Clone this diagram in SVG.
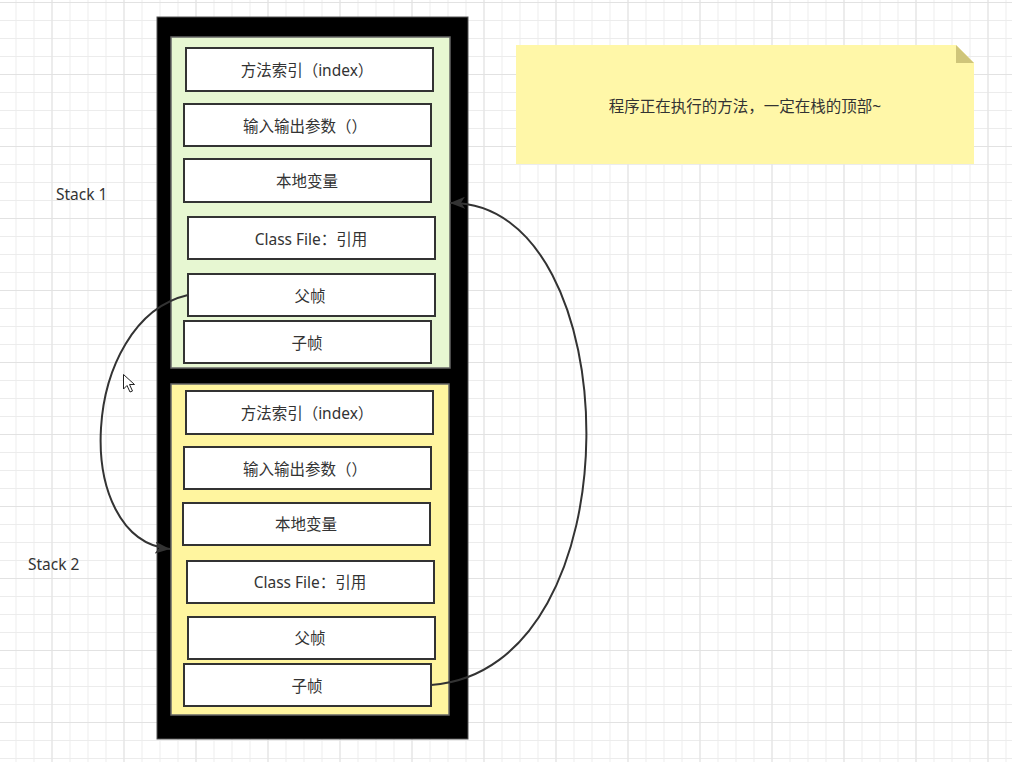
<svg xmlns="http://www.w3.org/2000/svg" width="1012" height="762" viewBox="0 0 1012 762">
  <defs>
    <pattern id="minor" x="-2.5" y="2" width="18" height="18" patternUnits="userSpaceOnUse">
      <path d="M 0.5 0 L 0.5 18 M 0 0.5 L 18 0.5" fill="none" stroke="#ececec" stroke-width="1"/>
    </pattern>
    <pattern id="major" x="51.5" y="2" width="72" height="72" patternUnits="userSpaceOnUse">
      <path d="M 0.5 0 L 0.5 72 M 0 0.5 L 72 0.5" fill="none" stroke="#e2e2e2" stroke-width="1"/>
    </pattern>
    <marker id="arrow" markerUnits="userSpaceOnUse" markerWidth="16" markerHeight="12" refX="15" refY="6" orient="auto">
      <path d="M 0 0 L 15 6 L 0 12 L 4 6 Z" fill="#333"/>
    </marker>
    <style>
      .box { fill: #ffffff; stroke: #333333; stroke-width: 2; }
      .lbl { font-family: "Noto Sans", "Noto Sans CJK SC", sans-serif; font-size: 15.5px; fill: #333333; text-anchor: middle; dominant-baseline: central; }
      .side { font-family: "Noto Sans", "Noto Sans CJK SC", sans-serif; font-size: 15.5px; fill: #333333; dominant-baseline: central; }
      .edge { fill: none; stroke: #333333; stroke-width: 2; }
    </style>
  </defs>

  <rect width="1012" height="762" fill="#ffffff"/>
  <rect width="1012" height="762" fill="url(#minor)"/>
  <rect width="1012" height="762" fill="url(#major)"/>

  <g id="frame">
    <rect x="157" y="17" width="311" height="722" fill="#000000" stroke="#555555" stroke-width="1"/>
  </g>

  <g id="stack1">
    <rect x="171" y="37" width="279" height="331" fill="#e7f7d2" stroke="#666666" stroke-width="1.5"/>
    <g id="s1-index"><rect class="box" x="186" y="48" width="247" height="43"/><text class="lbl" x="307" y="70">方法索引（index）</text></g>
    <g id="s1-io"><rect class="box" x="184" y="104" width="247" height="42"/><text class="lbl" x="305" y="126">输入输出参数（）</text></g>
    <g id="s1-local"><rect class="box" x="184" y="159" width="247" height="43"/><text class="lbl" x="307" y="181">本地变量</text></g>
    <g id="s1-class"><rect class="box" x="188" y="217" width="247" height="42"/><text class="lbl" x="311" y="239">Class File：引用</text></g>
    <g id="s1-parent"><rect class="box" x="188" y="274" width="247" height="42"/><text class="lbl" x="310" y="296">父帧</text></g>
    <g id="s1-child"><rect class="box" x="184" y="321" width="247" height="42"/><text class="lbl" x="307" y="343">子帧</text></g>
  </g>

  <g id="stack2">
    <rect x="171" y="384" width="278" height="331" fill="#fff59f" stroke="#666666" stroke-width="1.5"/>
    <g id="s2-index"><rect class="box" x="186" y="391" width="247" height="43"/><text class="lbl" x="307" y="413">方法索引（index）</text></g>
    <g id="s2-io"><rect class="box" x="184" y="447" width="247" height="42"/><text class="lbl" x="305" y="469">输入输出参数（）</text></g>
    <g id="s2-local"><rect class="box" x="183" y="503" width="247" height="42"/><text class="lbl" x="306" y="524">本地变量</text></g>
    <g id="s2-class"><rect class="box" x="187" y="561" width="247" height="42"/><text class="lbl" x="310" y="582">Class File：引用</text></g>
    <g id="s2-parent"><rect class="box" x="188" y="617" width="247" height="42"/><text class="lbl" x="310" y="638">父帧</text></g>
    <g id="s2-child"><rect class="box" x="184" y="664" width="247" height="42"/><text class="lbl" x="307" y="686">子帧</text></g>
  </g>

  <g id="label-stack1"><text class="side" x="56" y="194">Stack 1</text></g>
  <g id="label-stack2"><text class="side" x="28" y="564">Stack 2</text></g>

  <g id="note">
    <path d="M 516 45 L 956 45 L 974 63 L 974 164 L 516 164 Z" fill="#fff7a8"/>
    <path d="M 956 45 L 974 63 L 956 63 Z" fill="#cfc57a"/>
    <text class="lbl" x="745" y="106">程序正在执行的方法，一定在栈的顶部~</text>
  </g>

  <g id="connectors">
    <path class="edge" d="M 188 295 C 80 320 70 540 170 549" marker-end="url(#arrow)"/>
    <path class="edge" d="M 431 685 C 640 670 630 200 450 203" marker-end="url(#arrow)"/>
  </g>

  <g id="cursor">
    <path d="M 123.5 374.5 L 123.5 389 L 127 385.5 L 130 392 L 132.5 391 L 129.5 384.5 L 134.5 384.5 Z" fill="#ffffff" stroke="#222222" stroke-width="1"/>
  </g>
</svg>
